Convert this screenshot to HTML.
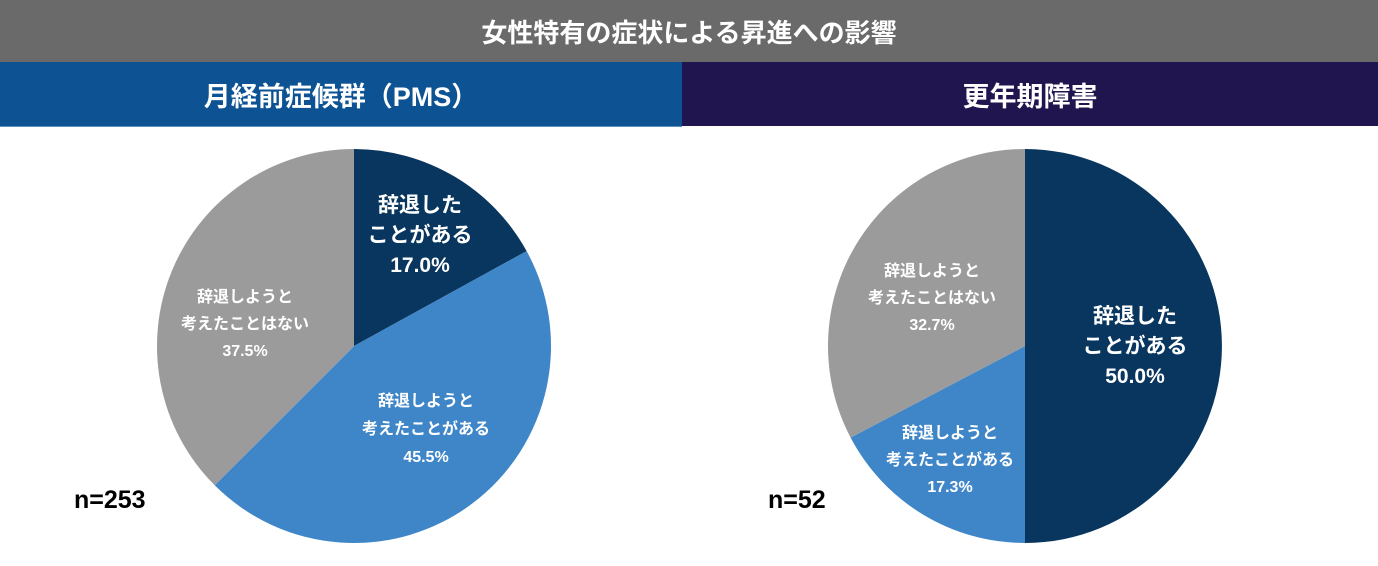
<!DOCTYPE html>
<html><head><meta charset="utf-8">
<style>
body{margin:0;width:1378px;height:566px;background:#fff;overflow:hidden;font-family:"Liberation Sans","Noto Sans CJK JP",sans-serif;}
.bar{position:absolute;color:#fff;font-weight:bold;display:flex;align-items:center;justify-content:center;}
</style></head><body>
<div class="bar" style="left:0;top:0;width:1378px;height:62px;background:#6a6a6a;font-size:26px;">女性特有の症状による昇進への影響</div>
<div class="bar" style="left:0;top:62px;width:682px;height:64px;background:#0d5293;font-size:27px;">月経前症候群（PMS）</div>
<div class="bar" style="left:682px;top:62px;width:696px;height:64px;background:#21154f;font-size:27px;">更年期障害</div>
<div style="position:absolute;left:0;top:126px;width:682px;height:1px;background:#5a8fc4"></div>
<svg id="chart" width="1378" height="566" style="position:absolute;left:0;top:0"></svg>
<script>
const categories=["辞退したことがある","辞退しようと考えたことがある","辞退しようと考えたことはない"];
const pmsValues=[17.0,45.5,37.5];
const menoValues=[50.0,17.3,32.7];
const sampleLabels=["n=253","n=52"];
const colors=["#08365f","#3f86c8","#9b9b9b"];
const svg=document.getElementById('chart');
const NS="http://www.w3.org/2000/svg";
function pie(cx,cy,r,vals,name,labels,nLabel,nx){
  const total=vals.reduce((a,b)=>a+b,0);let a0=0;
  vals.forEach((v,i)=>{
    const a1=a0+v/total*2*Math.PI;
    const x0=cx+r*Math.sin(a0),y0=cy-r*Math.cos(a0),x1=cx+r*Math.sin(a1),y1=cy-r*Math.cos(a1);
    const p=document.createElementNS(NS,'path');
    p.setAttribute('d',`M${cx},${cy}L${x0},${y0}A${r},${r} 0 ${a1-a0>Math.PI?1:0} 1 ${x1},${y1}Z`);
    p.setAttribute('fill',colors[i]);
    
    
    svg.appendChild(p);
    const L=labels[i];
    const lines=[...L.lines,vals[i].toFixed(1)+'%'];
    lines.forEach((t,j)=>{
      const tx=document.createElementNS(NS,'text');
      tx.setAttribute('x',L.x);tx.setAttribute('y',L.y+j*L.lh);
      tx.setAttribute('text-anchor','middle');tx.setAttribute('fill','#fff');
      tx.setAttribute('font-size',L.fs);tx.setAttribute('font-weight','bold');
      tx.setAttribute('font-family','"Liberation Sans","Noto Sans CJK JP",sans-serif');
      
      
      tx.textContent=t;svg.appendChild(tx);
    });
    a0=a1;
  });
  const n=document.createElementNS(NS,'text');
  n.setAttribute('x',nx);n.setAttribute('y',508);n.setAttribute('font-size',25);n.setAttribute('font-weight','bold');
  n.setAttribute('font-family','"Liberation Sans",sans-serif');
  
  
  n.textContent=nLabel;svg.appendChild(n);
}
pie(354,346,197,pmsValues,'pms',[
 {x:420,y:212,lh:30,fs:21,lines:["辞退した","ことがある"]},
 {x:426,y:406,lh:28,fs:16,lines:["辞退しようと","考えたことがある"]},
 {x:245,y:302,lh:27,fs:16,lines:["辞退しようと","考えたことはない"]}
],sampleLabels[0],74);
pie(1025,346,197,menoValues,'menopause',[
 {x:1135,y:323,lh:30,fs:21,lines:["辞退した","ことがある"]},
 {x:950,y:438,lh:27,fs:16,lines:["辞退しようと","考えたことがある"]},
 {x:932,y:276,lh:27,fs:16,lines:["辞退しようと","考えたことはない"]}
],sampleLabels[1],768);
</script>
</body></html>
